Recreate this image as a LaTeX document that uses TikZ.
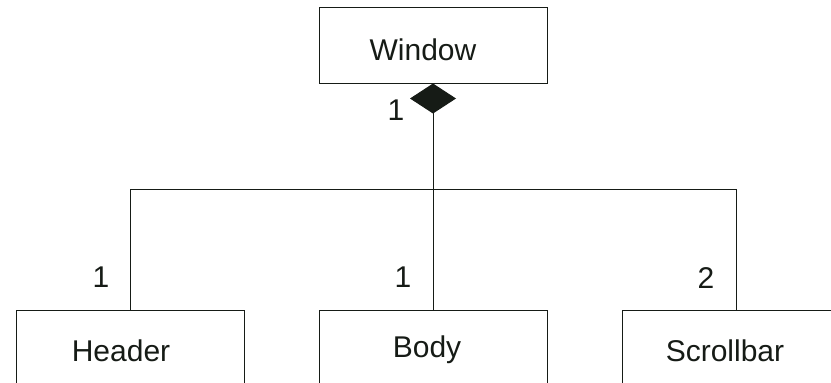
\documentclass[tikz,border=0pt]{standalone}
\usepackage{fontspec}
\setmainfont{Liberation Sans}
\usetikzlibrary{arrows.meta}
\definecolor{ink}{RGB}{22,27,22}
\begin{document}
\begin{tikzpicture}[x=1pt,y=-1pt,
  every node/.style={text=ink,font=\fontsize{30}{36}\selectfont},
  classbox/.style={draw=ink,line width=1pt,rectangle,inner sep=0pt,
    minimum width=228pt,minimum height=76pt},
  boxtext/.style={anchor=base,inner sep=0pt},
  mult/.style={anchor=base,inner sep=0pt},
  wire/.style={draw=ink,line width=1pt},
  composition/.style={wire,{Diamond[length=30pt,width=46pt,fill=ink]}-}]
  \useasboundingbox (0,0) rectangle (831,383);
  \clip (0,0) rectangle (831,383);
  % classes
  \node[classbox] (window) at (433,45) {};
  \node[classbox] (header) at (130.5,348) {};
  \node[classbox] (body)   at (433,348) {};
  \node[classbox] (scroll) at (736,348) {};
  \node[boxtext] (windowname) at (423,60)  {Window};
  \node[boxtext] (headername) at (121,361) {Header};
  \node[boxtext] (bodyname)   at (427,357) {Body};
  \node[boxtext] (scrollname) at (725,361) {Scrollbar};
  % composition tree
  \coordinate (hub) at (433,189);
  \draw[composition] (window.south) -- (hub);
  \draw[wire] (hub) -| (header.north);
  \draw[wire] (hub) -- (body.north);
  \draw[wire] (hub) -| (scroll.north);
  % multiplicities
  \node[mult] (mwindow) at (396,120) {1};
  \node[mult] (mheader) at (101,287) {1};
  \node[mult] (mbody)   at (403,287) {1};
  \node[mult] (mscroll) at (706,288) {2};
\end{tikzpicture}
\end{document}
